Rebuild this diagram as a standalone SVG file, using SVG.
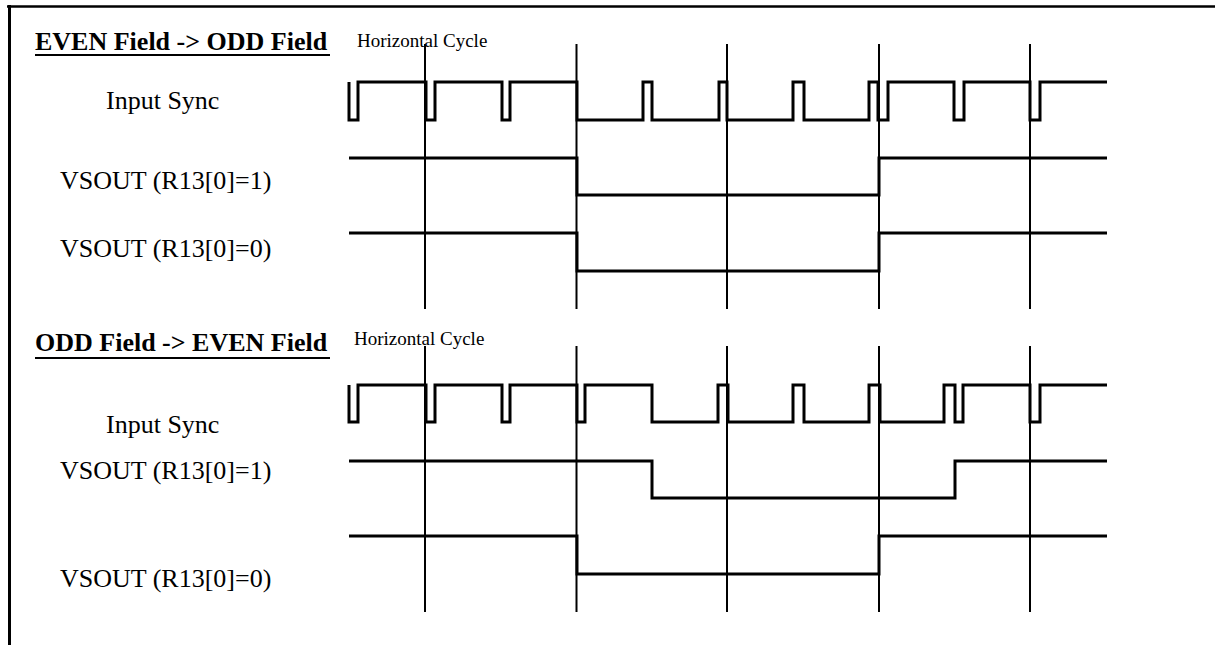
<svg xmlns="http://www.w3.org/2000/svg" width="1215" height="645" viewBox="0 0 1215 645">
<style>
.grid{stroke:#000;stroke-width:2;fill:none}
.wave{stroke:#000;stroke-width:3;fill:none;stroke-linejoin:miter;stroke-linecap:butt}
.lbl{font-family:"Liberation Serif","Times New Roman",serif;font-size:26px;fill:#000}
.ttl{font-family:"Liberation Serif","Times New Roman",serif;font-size:26px;font-weight:bold;fill:#000}
.small{font-family:"Liberation Serif","Times New Roman",serif;font-size:19px;fill:#000}
</style>
<rect width="1215" height="645" fill="#fff"/>
<g id="frame">
<line x1="7" y1="6.5" x2="1215" y2="6.5" stroke="#000" stroke-width="2.5"/>
<line x1="9.5" y1="5" x2="9.5" y2="645" stroke="#000" stroke-width="3"/>
</g>
<g id="top-section">
<g id="top-title">
<text class="ttl" x="35" y="50">EVEN Field -&gt; ODD Field</text>
<line x1="35" y1="55" x2="330" y2="55" stroke="#000" stroke-width="2"/>
</g>
<text id="top-hcycle" class="small" x="357" y="47">Horizontal Cycle</text>
<g id="top-grid">
<line class="grid" x1="425" y1="44" x2="425" y2="309"/>
<line class="grid" x1="576.5" y1="44" x2="576.5" y2="309"/>
<line class="grid" x1="727" y1="44" x2="727" y2="309"/>
<line class="grid" x1="879" y1="44" x2="879" y2="309"/>
<line class="grid" x1="1030" y1="44" x2="1030" y2="309"/>
</g>
<g id="top-input-sync">
<text class="lbl" x="106" y="109">Input Sync</text>
<path class="wave" d="M349,82 V120 H358 V82 H426 V120 H435 V82 H502 V120 H510 V82 H577 V120 H643 V82 H652 V120 H719 V82 H727 V120 H793 V82 H804 V120 H869 V82 H878 V120 H888 V82 H954 V120 H964 V82 H1030 V120 H1040 V82 H1107"/>
</g>
<g id="top-vsout1">
<text class="lbl" x="60" y="189">VSOUT (R13[0]=1)</text>
<path class="wave" d="M349,158 H577 V195 H879 V158 H1107"/>
</g>
<g id="top-vsout0">
<text class="lbl" x="60" y="257">VSOUT (R13[0]=0)</text>
<path class="wave" d="M349,233 H577 V271 H879 V233 H1107"/>
</g>
</g>
<g id="bottom-section">
<g id="bottom-title">
<text class="ttl" x="35" y="351">ODD Field -&gt; EVEN Field</text>
<line x1="35" y1="358" x2="330" y2="358" stroke="#000" stroke-width="2"/>
</g>
<text id="bottom-hcycle" class="small" x="354" y="345">Horizontal Cycle</text>
<g id="bottom-grid">
<line class="grid" x1="425" y1="346" x2="425" y2="612"/>
<line class="grid" x1="576.5" y1="346" x2="576.5" y2="612"/>
<line class="grid" x1="727" y1="346" x2="727" y2="612"/>
<line class="grid" x1="879" y1="346" x2="879" y2="612"/>
<line class="grid" x1="1030" y1="346" x2="1030" y2="612"/>
</g>
<g id="bottom-input-sync">
<text class="lbl" x="106" y="433">Input Sync</text>
<path class="wave" d="M349,385 V422 H358 V385 H426 V422 H435 V385 H502 V422 H510 V385 H577 V422 H585 V385 H652 V422 H718 V385 H728 V422 H793 V385 H804 V422 H869 V385 H880 V422 H944 V385 H955 V422 H963 V385 H1030 V422 H1040 V385 H1107"/>
</g>
<g id="bottom-vsout1">
<text class="lbl" x="60" y="479">VSOUT (R13[0]=1)</text>
<path class="wave" d="M349,461 H652 V498 H955 V461 H1107"/>
</g>
<g id="bottom-vsout0">
<text class="lbl" x="60" y="587">VSOUT (R13[0]=0)</text>
<path class="wave" d="M349,536 H577 V574 H879 V536 H1107"/>
</g>
</g>
</svg>
